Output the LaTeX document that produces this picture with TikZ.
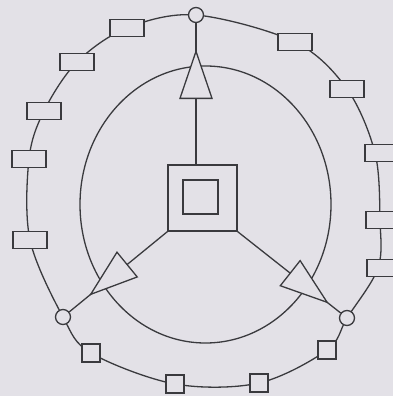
\documentclass[tikz,border=0pt]{standalone}
\usetikzlibrary{calc}
\definecolor{bg}{RGB}{227,225,231}
\definecolor{ink}{RGB}{58,58,62}
\begin{document}
\begin{tikzpicture}[x=1pt,y=-1pt,line width=1.3pt,
  rectbox/.style={draw=ink,fill=bg,minimum width=34pt,minimum height=17pt,inner sep=0pt},
  sqbox/.style={draw=ink,fill=bg,minimum size=18pt,inner sep=0pt},
  portnode/.style={circle,draw=ink,fill=bg,minimum size=15pt,inner sep=0pt},
  tri/.style={draw=ink,fill=bg,line join=miter},
  ringline/.style={draw=ink}]
\fill[bg] (0,0) rectangle (393,396);
\useasboundingbox (0,0) rectangle (393,396);
% inner ellipse
\draw[ink] (205.5,204.5) ellipse [x radius=125.5pt, y radius=138.5pt];
% ring coordinates
\coordinate (pT) at (196,15);
\coordinate (p6) at (295,42);
\coordinate (p7) at (347,89);
\coordinate (p8) at (375,153);
\coordinate (p9) at (380,220);
\coordinate (p10) at (378,268);
\coordinate (pR) at (347,318);
\coordinate (p13) at (327,350);
\coordinate (p14) at (259,383);
\coordinate (p15) at (175,384);
\coordinate (p16) at (91,353);
\coordinate (pL) at (63,317);
\coordinate (p5) at (30,240);
\coordinate (p4) at (29,159);
\coordinate (p3) at (44,111);
\coordinate (p2) at (77,62);
\coordinate (p1) at (127,28);
\draw[ringline] plot[smooth cycle,tension=0.55] coordinates
  {(pT) (p6) (p7) (p8) (p9) (p10) (pR) (p13) (p14) (p15) (p16) (pL) (p5) (p4) (p3) (p2) (p1)};
% nodes on ring
\node[rectbox] (r1) at (127,28) {};
\node[rectbox] (r2) at (77,62) {};
\node[rectbox] (r3) at (44,111) {};
\node[rectbox] (r4) at (29,159) {};
\node[rectbox] (r5) at (30,240) {};
\node[rectbox] (r6) at (295,42) {};
\node[rectbox] (r7) at (347,89) {};
\node[rectbox] (r8) at (382,153) {};
\node[rectbox] (r9) at (383,220) {};
\node[rectbox] (r10) at (384,268) {};
\node[sqbox] (s1) at (91,353) {};
\node[sqbox] (s2) at (175,384) {};
\node[sqbox] (s3) at (327,350) {};
\node[sqbox] (s4) at (259,383) {};
\node[portnode] (T) at (196,15) {};
\node[portnode] (L) at (63,317) {};
\node[portnode] (R) at (347,318) {};
% centre
\node[draw=ink,fill=bg,minimum width=69pt,minimum height=66pt,inner sep=0pt] (sq) at (202.5,198) {};
\node[draw=ink,fill=bg,minimum width=35pt,minimum height=34pt,inner sep=0pt] (sqi) at (200.5,197) {};
% spokes
\coordinate (s0) at (T |- sq.north);
\draw[ink] (T) -- (s0);
\draw[ink] (L) -- (sq.south west);
\draw[ink] (R) -- (sq.south east);
% triangles
\coordinate (tb) at ($(s0)!66pt!(T)$);
\coordinate (ta) at ($(s0)!113pt!(T)$);
\draw[tri] (ta) -- ($(tb)!16pt!90:(ta)$) -- ($(tb)!16pt!-90:(ta)$) -- cycle;
\coordinate (lb) at ($(sq.south west)!52pt!(L)$);
\coordinate (la) at ($(sq.south west)!99pt!(L)$);
\draw[tri] (la) -- ($(lb)!16pt!90:(la)$) -- ($(lb)!16pt!-90:(la)$) -- cycle;
\coordinate (rb) at ($(sq.south east)!67pt!(R)$);
\coordinate (ra) at ($(sq.south east)!114pt!(R)$);
\draw[tri] (ra) -- ($(rb)!16pt!90:(ra)$) -- ($(rb)!16pt!-90:(ra)$) -- cycle;
\end{tikzpicture}
\end{document}
